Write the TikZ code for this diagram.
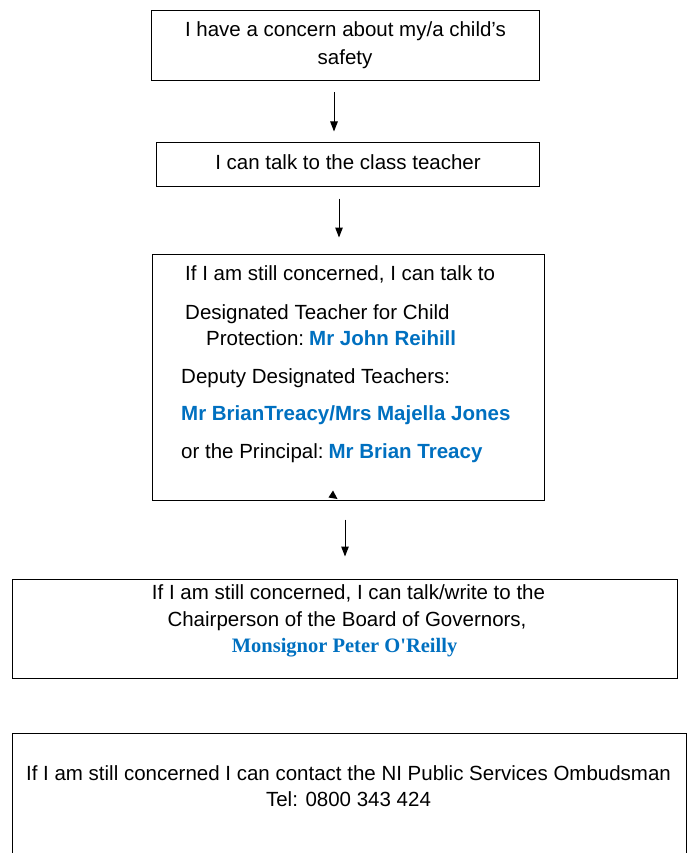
\documentclass[tikz,border=0pt]{standalone}
\usepackage{fontspec}
\setmainfont{Liberation Sans}
\newfontfamily\timesfam{Liberation Serif}
\usetikzlibrary{arrows.meta}
\definecolor{nameblue}{HTML}{0070C0}
\newcommand{\nm}[1]{{\bfseries\color{nameblue}#1}}
\begin{document}
\begin{tikzpicture}[x=1pt,y=-1pt,
  box/.style={draw, line width=1pt, inner sep=0pt},
  txt/.style={inner sep=0pt, anchor=base, font=\fontsize{20.5}{28}\selectfont},
  ltxt/.style={inner sep=0pt, anchor=base west, font=\fontsize{20.5}{28}\selectfont},
  arr/.style={-{Triangle[length=10pt,width=7.5pt]}, line width=1pt}]
\useasboundingbox (0,0) rectangle (689,853);
\clip (0,0) rectangle (689,853);
% boxes
\node[box, minimum width=388pt, minimum height=70pt] (b1) at (345,46) {};
\node[box, minimum width=383pt, minimum height=43pt] (b2) at (347.5,164.5) {};
\node[box, minimum width=392pt, minimum height=246pt] (b3) at (348,377) {};
\node[box, minimum width=665pt, minimum height=99pt] (b4) at (344.5,628.5) {};
\node[box, minimum width=674pt, minimum height=130pt] (b5) at (349,798) {};
% texts
\node[txt] (t1a) at (345.5,37) {I have a concern about my/a child’s};
\node[txt] (t1b) at (345,65) {safety};
\node[txt] (t2) at (348,169) {I can talk to the class teacher};
\node[ltxt] (t3a) at (185,280) {If I am still concerned, I can talk to};
\node[ltxt] (t3b) at (185,319) {Designated Teacher for Child};
\node[ltxt] (t3c) at (206,345) {Protection:\hspace{5pt}\nm{Mr John Reihill}};
\node[ltxt] (t3d) at (181,383) {Deputy Designated Teachers:};
\node[ltxt] (t3e) at (181,420) {\nm{Mr BrianTreacy/Mrs Majella Jones}};
\node[ltxt] (t3f) at (181,458) {or the Principal:\hspace{5pt}\nm{Mr Brian Treacy}};
\node[txt] (t4a) at (348.5,599) {If I am still concerned, I can talk/write to the};
\node[txt] (t4b) at (347,626) {Chairperson of the Board of Governors,};
\node[txt] (t4c) at (344.5,652) {\timesfam\bfseries\color{nameblue}Monsignor Peter O'Reilly};
\node[txt] (t5a) at (348.5,780) {If I am still concerned I can contact the NI Public Services Ombudsman};
\node[txt] (t5b) at (348.5,806) {Tel: 0800 343 424};
% stray arrowhead mark
\fill (333,490.5) -- (337.5,499) -- (328.5,497.5) -- cycle;
% connectors
\coordinate (c1) at (334,0);
\coordinate (c2) at (339,0);
\coordinate (c3) at (345,0);
\draw[arr, shorten <=11pt, shorten >=11pt] (b1.south -| c1) -- (b2.north -| c1);
\draw[arr, shorten <=12pt, shorten >=16pt] (b2.south -| c2) -- (b3.north -| c2);
\draw[arr, shorten <=19pt, shorten >=22pt] (b3.south -| c3) -- (b4.north -| c3);
\end{tikzpicture}
\end{document}
